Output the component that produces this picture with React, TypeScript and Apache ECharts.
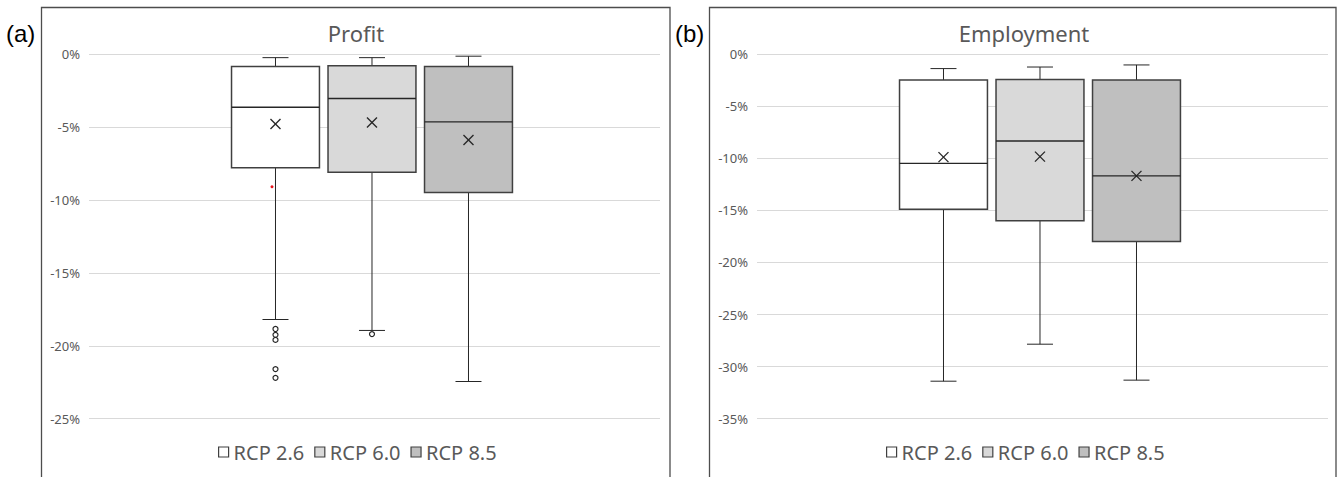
import React, { useEffect, useRef } from 'react';
import * as echarts from 'echarts';

const scenarios = ['RCP 2.6', 'RCP 6.0', 'RCP 8.5'];
const fills = ['#ffffff', '#d9d9d9', '#bfbfbf'];

// [min, Q1, median, Q3, max, mean] in %
const profitStats = [
  [-18.2, -7.8, -3.65, -0.85, -0.25, -4.8],
  [-18.95, -8.1, -3.05, -0.8, -0.25, -4.7],
  [-22.45, -9.5, -4.65, -0.85, -0.15, -5.9],
];
const profitOutliers = [
  [-18.85, -19.25, -19.6, -21.6, -22.2],
  [-19.2],
  [],
];
const profitRedMarks = [[-9.1], [], []];

const employmentStats = [
  [-31.4, -14.9, -10.5, -2.5, -1.4, -9.9],
  [-27.85, -16.0, -8.35, -2.45, -1.25, -9.85],
  [-31.3, -18.0, -11.7, -2.5, -1.05, -11.7],
];
const employmentOutliers = [[], [], []];
const employmentRedMarks = [[], [], []];

const profitTicks = [0, -5, -10, -15, -20, -25];
const employmentTicks = [0, -5, -10, -15, -20, -25, -30, -35];

const FONT = '"Noto Sans", "Open Sans", sans-serif';

function makeRender(k: number, fill: string, outliers: number[], reds: number[]) {
  return (params: any, api: any) => {
    const xv = api.value(0);
    const base = api.coord([xv, 0]);
    const band = api.size([1, 0])[0];
    const cx = base[0] + (k - 1) * band * 0.169 - band * 0.0044;
    const w = band * 0.154;
    const y = (i: number) => api.coord([xv, api.value(i)])[1];
    const yMin = y(1), yQ1 = y(2), yMed = y(3), yQ3 = y(4), yMax = y(5), yMean = y(6);
    const cap = 13;
    const ls = { stroke: '#262626', lineWidth: 1 };
    const children: any[] = [
      { type: 'line', shape: { x1: cx, y1: yMax, x2: cx, y2: yQ3 }, style: ls },
      { type: 'line', shape: { x1: cx, y1: yQ1, x2: cx, y2: yMin }, style: ls },
      { type: 'line', shape: { x1: cx - cap, y1: yMax, x2: cx + cap, y2: yMax }, style: ls },
      { type: 'line', shape: { x1: cx - cap, y1: yMin, x2: cx + cap, y2: yMin }, style: ls },
      {
        type: 'rect',
        shape: { x: cx - w / 2, y: yQ3, width: w, height: yQ1 - yQ3 },
        style: { fill, stroke: '#404040', lineWidth: 1.5 },
      },
      { type: 'line', shape: { x1: cx - w / 2, y1: yMed, x2: cx + w / 2, y2: yMed }, style: { stroke: '#262626', lineWidth: 1.3 } },
      { type: 'line', shape: { x1: cx - 5, y1: yMean - 5, x2: cx + 5, y2: yMean + 5 }, style: { stroke: '#262626', lineWidth: 1.3 } },
      { type: 'line', shape: { x1: cx - 5, y1: yMean + 5, x2: cx + 5, y2: yMean - 5 }, style: { stroke: '#262626', lineWidth: 1.3 } },
    ];
    outliers.forEach((v) => {
      const p = api.coord([xv, v]);
      children.push({ type: 'circle', shape: { cx, cy: p[1], r: 2.5 }, style: { fill: '#fff', stroke: '#262626', lineWidth: 1.2 } });
    });
    reds.forEach((v) => {
      const p = api.coord([xv, v]);
      children.push({ type: 'circle', shape: { cx: cx - 3.5, cy: p[1], r: 1.5 }, style: { fill: '#e8141c' } });
    });
    return { type: 'group', children };
  };
}

export default function App() {
  const ref = useRef<HTMLDivElement>(null);
  useEffect(() => {
    if (!ref.current) return;
    const chart = echarts.init(ref.current, null, { renderer: 'svg' });

    const yAxisBase = (ticks: number[], gridIndex: number) => ({
      type: 'value',
      gridIndex,
      min: Math.min(...ticks),
      max: Math.max(...ticks),
      interval: 5,
      axisLine: { show: false },
      axisTick: { show: false },
      axisLabel: {
        formatter: (v: number) => `${v}%`,
        color: '#595959',
        fontSize: 13,
        fontFamily: FONT,
        margin: 9,
      },
      splitLine: { lineStyle: { color: '#d9d9d9', width: 1 } },
    });
    const xAxisBase = (gridIndex: number) => ({
      type: 'category',
      gridIndex,
      data: [''],
      axisLine: { show: false },
      axisTick: { show: false },
      axisLabel: { show: false },
      splitLine: { show: false },
    });

    const series: any[] = [];
    scenarios.forEach((name, k) => {
      series.push({
        type: 'custom',
        name,
        xAxisIndex: 0,
        yAxisIndex: 0,
        data: [[0, ...profitStats[k]]],
        encode: { x: 0, y: [1, 2, 3, 4, 5, 6] },
        itemStyle: { color: fills[k], borderColor: '#404040' },
        renderItem: makeRender(k, fills[k], profitOutliers[k], profitRedMarks[k]),
      });
    });
    scenarios.forEach((name, k) => {
      series.push({
        type: 'custom',
        name,
        xAxisIndex: 1,
        yAxisIndex: 1,
        data: [[0, ...employmentStats[k]]],
        encode: { x: 0, y: [1, 2, 3, 4, 5, 6] },
        itemStyle: { color: fills[k], borderColor: '#404040' },
        renderItem: makeRender(k, fills[k], employmentOutliers[k], employmentRedMarks[k]),
      });
    });

    const legendData = scenarios.map((name, k) => ({
      name,
      icon: 'rect',
      itemStyle: { color: fills[k], borderColor: '#404040', borderWidth: 1.2 },
    }));
    const legendBase = {
      orient: 'horizontal',
      itemWidth: 10,
      itemHeight: 10,
      itemGap: 10,
      selectedMode: false,
      textStyle: { color: '#595959', fontSize: 20, fontFamily: FONT },
      data: legendData,
    };

    const txt = (text: string, x: number, y: number, font: string, fill: string, align = 'center') => ({
      type: 'text',
      x,
      y,
      style: { text, font, fill, align, verticalAlign: 'middle', textAlign: align, textVerticalAlign: 'middle' },
    });

    chart.setOption({
      animation: false,
      backgroundColor: '#ffffff',
      grid: [
        { left: 89, right: 1340 - 660, top: 54, bottom: 477 - 418.7 },
        { left: 757, right: 1340 - 1328, top: 54, bottom: 477 - 418.7 },
      ],
      xAxis: [xAxisBase(0), xAxisBase(1)],
      yAxis: [yAxisBase(profitTicks, 0), yAxisBase(employmentTicks, 1)],
      legend: [
        { ...legendBase, left: 213, top: 437 },
        { ...legendBase, left: 881, top: 437 },
      ],
      graphic: [
        { type: 'rect', shape: { x: 41.5, y: 7.5, width: 628.5, height: 480 }, style: { fill: 'none', stroke: '#4d4d4d', lineWidth: 1.3 }, silent: true },
        { type: 'rect', shape: { x: 709.5, y: 7.5, width: 626.5, height: 480 }, style: { fill: 'none', stroke: '#4d4d4d', lineWidth: 1.3 }, silent: true },
        txt('(a)', 6, 33, `24px "Liberation Sans", Arial, sans-serif`, '#000000', 'left'),
        txt('(b)', 675, 33, `24px "Liberation Sans", Arial, sans-serif`, '#000000', 'left'),
        txt('Profit', 356, 33, `22px ${FONT}`, '#595959'),
        txt('Employment', 1024, 33, `22px ${FONT}`, '#595959'),
      ],
      series,
    });
    return () => chart.dispose();
  }, []);
  return (
    <div
      ref={ref}
      style={{ position: 'fixed', left: 0, top: 0, width: 1340, height: 477, background: '#fff' }}
    />
  );
}
